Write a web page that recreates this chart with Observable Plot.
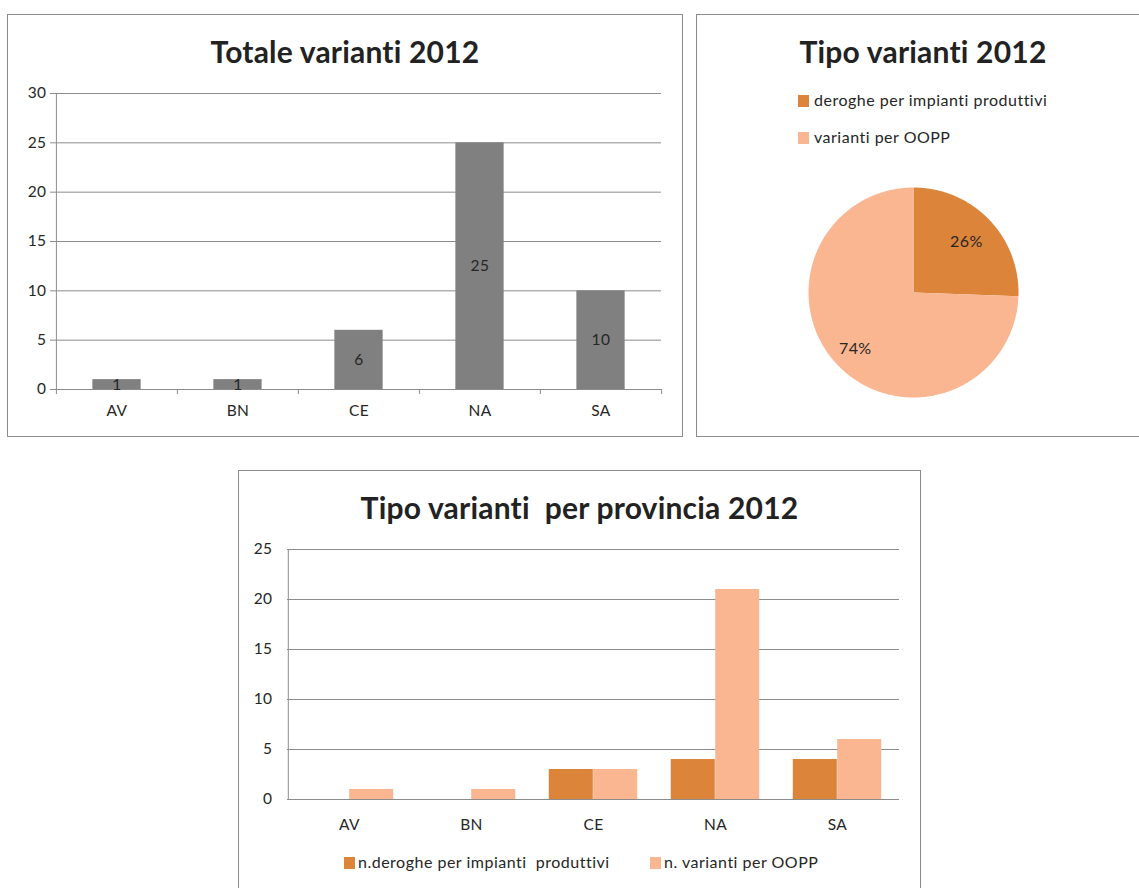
<!DOCTYPE html>
<html><head><meta charset="utf-8">
<script src="https://cdn.jsdelivr.net/npm/d3@7"></script>
<script src="https://cdn.jsdelivr.net/npm/@observablehq/plot@0.6"></script>
<style>
html,body{margin:0;padding:0;background:#fff;overflow:hidden;}
body{width:1139px;height:888px;position:relative;font-family:Lato,"Open Sans",sans-serif;color:#262626}
.panel{position:absolute;border:1px solid #8c8c8c;box-sizing:border-box;background:#fff}
.title{position:absolute;left:0;right:0;text-align:center;font-weight:bold;font-size:30px;line-height:30px;color:#222;white-space:pre;letter-spacing:0.2px}
.abs{position:absolute}
.leg{position:absolute;font-size:16px;line-height:16px;white-space:pre;color:#262626;letter-spacing:0.5px}
.sw{position:absolute;width:11px;height:12px}
svg g[aria-label="y-axis tick"] path, svg g[aria-label="x-axis tick"] path{stroke:#8c8c8c}
svg text{letter-spacing:0.4px}
</style></head><body>
<div class="panel" style="left:7px;top:14px;width:676px;height:423px"><div class="title" style="top:21px">Totale varianti 2012</div></div>
<div class="panel" style="left:696px;top:14px;width:454px;height:423px"><div class="title" style="top:21px">Tipo varianti 2012</div></div>
<div class="panel" style="left:238px;top:470px;width:683px;height:440px"><div class="title" style="top:21px">Tipo varianti  per provincia 2012</div></div>
<script>
// ---- data ----
const provinces = ["AV", "BN", "CE", "NA", "SA"];
const totals = [1, 1, 6, 25, 10];
const deroghe = [0, 0, 3, 4, 4];
const oopp = [1, 1, 3, 21, 6];
const pieLabels = ["deroghe per impianti produttivi", "varianti per OOPP"];
const pieValues = [11, 32];
const barSeries = ["n.deroghe per impianti  produttivi", "n. varianti per OOPP"];
const colors = ["#dc843a", "#f9b690"];

const FONT = "Lato, 'Open Sans', sans-serif";
const grid = "#8c8c8c";
function place(el, left, top) { el.classList.add("abs"); el.style.left = left + "px"; el.style.top = top + "px"; document.body.appendChild(el); }

// ---- chart 1 ----
const rows1 = provinces.map((p, i) => ({prov: p, value: totals[i]}));
const w1 = 674, ml1 = 47, mr1 = 21;
const bw1 = (w1 - ml1 - mr1) / provinces.length;
const c1 = Plot.plot({
  width: w1, height: 422, marginLeft: ml1, marginRight: mr1, marginTop: 79, marginBottom: 47,
  style: {fontFamily: FONT, fontSize: "15.5px", color: "#262626", background: "transparent", overflow: "visible"},
  x: {domain: provinces, padding: 0, tickSize: 0, tickPadding: 15, label: null},
  y: {domain: [0, 30], ticks: 6, tickSize: 5, tickPadding: 4, label: null},
  marks: [
    Plot.ruleY([5, 10, 15, 20, 25, 30], {stroke: grid}),
    Plot.barY(rows1, {x: "prov", y: "value", fill: "#808080", insetLeft: bw1 * 0.3, insetRight: bw1 * 0.3}),
    Plot.ruleY([0], {stroke: grid}),
    Plot.ruleX([provinces[0]], {dx: -bw1 / 2, y1: 0, y2: 30, stroke: grid}),
    Plot.ruleX(provinces, {x: d => d, dx: -bw1 / 2, y1: 0, y2: 0, insetBottom: -5, stroke: grid}),
    Plot.ruleX([provinces[provinces.length - 1]], {x: d => d, dx: bw1 / 2, y1: 0, y2: 0, insetBottom: -5, stroke: grid}),
    Plot.text(rows1, {x: "prov", y: d => d.value / 2, text: d => String(d.value), fill: "#262626", fontSize: 15.5})
  ]
});
place(c1, 8, 14);

// ---- chart 2 (pie) ----
const arcs = d3.pie().sort(null)(pieValues);
const total = d3.sum(pieValues);
const pieRows = arcs.flatMap((s, k) => {
  const n = Math.max(2, Math.ceil((s.endAngle - s.startAngle) / 0.01));
  const pts = [{slice: pieLabels[k], x: 0, y: 0}];
  for (let j = 0; j <= n; j++) {
    const a = s.startAngle + (s.endAngle - s.startAngle) * j / n;
    pts.push({slice: pieLabels[k], x: Math.sin(a), y: Math.cos(a)});
  }
  pts.push({slice: pieLabels[k], x: 0, y: 0});
  return pts;
});
const pieText = arcs.map((s, k) => {
  const a = (s.startAngle + s.endAngle) / 2;
  const r = k === 0 ? 0.7 : 0.77;
  return {x: r * Math.sin(a), y: r * Math.cos(a), label: d3.format(".0%")(pieValues[k] / total)};
});
const c2 = Plot.plot({
  width: 212, height: 212, margin: 1,
  style: {fontFamily: FONT, fontSize: "16px", color: "#262626", background: "transparent", overflow: "visible"},
  x: {domain: [-1, 1], axis: null},
  y: {domain: [-1, 1], axis: null},
  color: {domain: pieLabels, range: colors},
  marks: [
    Plot.line(pieRows, {x: "x", y: "y", z: "slice", fill: "slice", stroke: "none"}),
    Plot.text(pieText, {x: "x", y: "y", text: "label", fill: "#262626", fontSize: 16})
  ]
});
place(c2, 807, 186);

// pie legend
pieLabels.forEach((lab, k) => {
  const sw = document.createElement("div"); sw.className = "sw"; sw.style.background = colors[k];
  sw.style.left = "798px"; sw.style.top = (95 + k * 37) + "px"; document.body.appendChild(sw);
  const t = document.createElement("div"); t.className = "leg"; t.textContent = lab;
  t.style.left = "814px"; t.style.top = (92 + k * 37) + "px"; document.body.appendChild(t);
});

// ---- chart 3 ----
const rows3 = provinces.flatMap((p, i) => [
  {prov: p, series: barSeries[0], value: deroghe[i]},
  {prov: p, series: barSeries[1], value: oopp[i]}
]);
const w3 = 682, ml3 = 49, mr3 = 21;
const bw3 = (w3 - ml3 - mr3) / provinces.length;
const c3 = Plot.plot({
  width: w3, height: 380, marginLeft: ml3, marginRight: mr3, marginTop: 79, marginBottom: 51,
  style: {fontFamily: FONT, fontSize: "15.5px", color: "#262626", background: "transparent", overflow: "visible"},
  x: {domain: provinces, padding: 0, tickSize: 0, tickPadding: 19, label: null},
  y: {domain: [0, 25], ticks: 5, tickSize: 0, tickPadding: 15, label: null},
  color: {domain: barSeries, range: colors},
  marks: [
    Plot.ruleY([5, 10, 15, 20, 25], {stroke: grid}),
    Plot.barY(rows3.filter(d => d.series === barSeries[0]), {x: "prov", y: "value", fill: "series", insetLeft: bw3 * 0.137, insetRight: bw3 * 0.5}),
    Plot.barY(rows3.filter(d => d.series === barSeries[1]), {x: "prov", y: "value", fill: "series", insetLeft: bw3 * 0.5, insetRight: bw3 * 0.137}),
    Plot.ruleY([0], {stroke: grid}),
    Plot.ruleX([provinces[0]], {dx: -bw3 / 2, y1: 0, y2: 25, stroke: grid})
  ]
});
place(c3, 238, 470);

// bar legend
[[344, 358], [650, 664]].forEach(([sx, tx], k) => {
  const sw = document.createElement("div"); sw.className = "sw"; sw.style.background = colors[k];
  sw.style.left = sx + "px"; sw.style.top = "857px"; document.body.appendChild(sw);
  const t = document.createElement("div"); t.className = "leg"; t.textContent = barSeries[k];
  t.style.left = tx + "px"; t.style.top = "854px"; document.body.appendChild(t);
});
</script>
</body></html>
